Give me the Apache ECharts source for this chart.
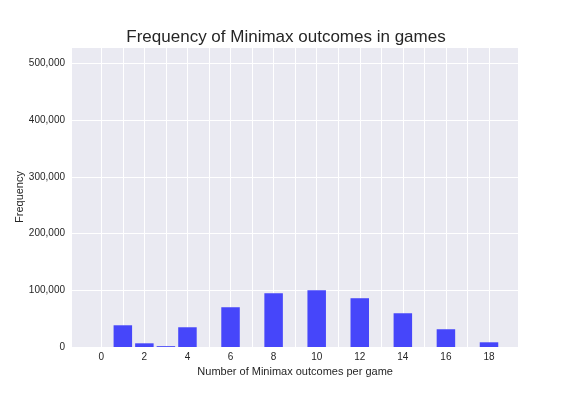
<!DOCTYPE html>
<html>
<head>
    <meta charset="UTF-8">
    <title>Frequency of Minimax outcomes in games</title>
    <script src="https://cdn.jsdelivr.net/npm/echarts@6/dist/echarts.min.js"></script>
    <style>
        html, body { margin: 0; padding: 0; background: #fff; }
        #chart { width: 576px; height: 396px; }
    </style>
</head>
<body>
    <div id="chart"></div>
<script type="text/javascript">
    // outcomes per game and how often each happened
    var outcomes = [1, 2, 3, 4, 6, 8, 10, 12, 14, 16, 18];
    var frequency = [38300, 6500, 1500, 34800, 70100, 94900, 100200, 86000, 59500, 31300, 8300];
    var xRange = [0, 18];      // vertical grid lines run from 0 to 18, one per unit
    var yMax = 529000;

    var textColor = '#262626';
    var fontName = '"Liberation Sans", Arial, sans-serif';

    var barData = [];
    for (var i = 0; i < outcomes.length; i++) {
        barData.push([outcomes[i], frequency[i]]);
    }

    function withCommas(v) {
        return String(v).replace(/\B(?=(\d{3})+(?!\d))/g, ',');
    }

    var option = {
        animation: false,
        textStyle: { fontFamily: fontName },
        title: {
            text: 'Frequency of Minimax outcomes in games',
            left: 281,
            textAlign: 'center',
            top: 24,
            textStyle: { fontSize: 17, fontWeight: 'normal', color: textColor, fontFamily: fontName }
        },
        // grid 0: whole plot area (background + horizontal lines)
        // grid 1: span 0..18 on x (vertical lines + bars)
        grid: [
            { left: 72, right: 58, top: 47, bottom: 49, show: true, backgroundColor: '#eaeaf2', borderWidth: 0 },
            { left: 101.3, right: 87, top: 47, bottom: 49 }
        ],
        xAxis: [
            {
                gridIndex: 0,
                type: 'value',
                min: 0,
                max: 1,
                show: false
            },
            {
                gridIndex: 1,
                type: 'value',
                min: xRange[0],
                max: xRange[1],
                interval: 1,
                name: 'Number of Minimax outcomes per game',
                nameLocation: 'middle',
                nameGap: 19,
                nameMoveOverlap: false,
                nameTextStyle: { fontSize: 11, color: textColor },
                axisLine: { show: false },
                axisTick: { show: false },
                axisLabel: {
                    fontSize: 10,
                    color: textColor,
                    margin: 5,
                    formatter: function (v) {
                        return v % 2 === 0 ? String(v) : '';
                    }
                },
                splitLine: { show: true, lineStyle: { color: '#ffffff', width: 1 } }
            }
        ],
        yAxis: [
            {
                gridIndex: 0,
                type: 'value',
                min: 0,
                max: yMax,
                interval: 100000,
                name: 'Frequency',
                nameLocation: 'middle',
                nameGap: 47,
                nameMoveOverlap: false,
                nameTextStyle: { fontSize: 11, color: textColor },
                axisLine: { show: false },
                axisTick: { show: false },
                axisLabel: {
                    fontSize: 10,
                    color: textColor,
                    margin: 7,
                    formatter: function (v) {
                        return v % 100000 === 0 ? withCommas(v) : '';
                    }
                },
                splitLine: { show: true, lineStyle: { color: '#ffffff', width: 1 } }
            },
            {
                gridIndex: 1,
                type: 'value',
                min: 0,
                max: yMax,
                show: false,
                splitLine: { show: false }
            }
        ],
        series: [
            {
                type: 'bar',
                xAxisIndex: 1,
                yAxisIndex: 1,
                data: barData,
                barWidth: 18.5,
                clip: false,
                itemStyle: { color: '#4646fa' }
            }
        ]
    };
    echarts.init(document.getElementById('chart')).setOption(option);
</script>
</body>
</html>
